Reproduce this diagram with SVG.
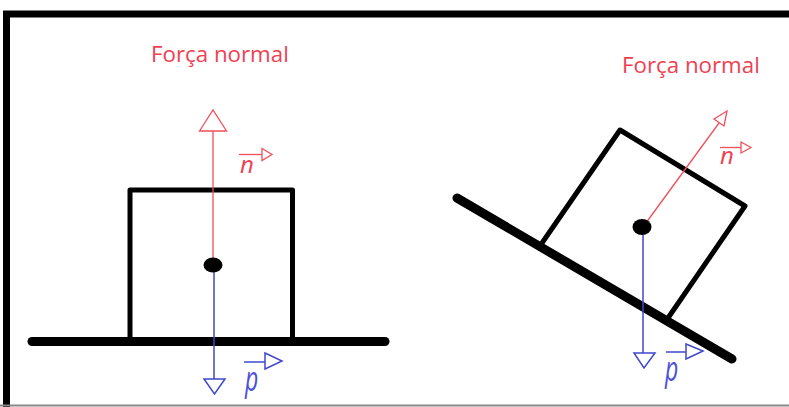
<svg xmlns="http://www.w3.org/2000/svg" width="789" height="407" viewBox="0 0 789 407">
<style>
.frame{fill:none;stroke:#000;stroke-width:7}
.ground{stroke:#000;stroke-width:9;stroke-linecap:round;fill:none}
.box{fill:none;stroke:#000;stroke-width:5;stroke-linejoin:round}
.red{stroke:#f0505a;stroke-width:1.3;fill:none}
.redh{stroke:#f0505a;stroke-width:1.3;fill:#fff}
.blue{stroke:#3f48cc;stroke-width:1.5;fill:none}
.blueh{stroke:#3f48cc;stroke-width:1.5;fill:#fff}
.title{font-family:"Open Sans","Liberation Sans",sans-serif;font-size:22.3px;fill:#f04050}
.vn{font-family:"Open Sans","Liberation Sans",sans-serif;font-style:italic;font-size:24px;fill:#f04050}
.vp{font-family:"Open Sans","Liberation Sans",sans-serif;font-style:italic;font-size:23px;fill:#4a50d8}
</style>
<rect width="789" height="407" fill="#fff"/>
<g id="frame">
<path class="frame" d="M6.5 407 V14 H789"/>
<line x1="0" y1="405.5" x2="789" y2="405.5" stroke="#888" stroke-width="2"/>
</g>
<g id="left-scene">
<g id="ground-left"><line class="ground" x1="32" y1="341.5" x2="385" y2="341.5"/></g>
<g id="box-left"><path class="box" d="M130 339 V190 H292.5 V339"/></g>
<g id="title-left"><text class="title" x="151" y="62">Força normal</text></g>
<g id="label-n-left">
<line class="red" x1="239" y1="154.5" x2="262" y2="154.5"/>
<path class="redh" d="M262 148.5 L272 154.5 L262 160.5 Z"/>
<text class="vn" x="240" y="173">n</text>
</g>
<g id="label-p-left">
<line class="blue" x1="244" y1="362" x2="265" y2="362"/>
<path class="blueh" d="M265 353 L282 361 L265 369 Z"/>
<text class="vp" transform="translate(245 391) scale(1 1.5)">p</text>
</g>
</g>
<g id="right-scene">
<g id="ground-right"><line class="ground" x1="457" y1="198" x2="732" y2="359"/></g>
<g id="box-right"><path class="box" d="M542 243 L620 130 L745 206 L668 318"/></g>
<g id="title-right"><text class="title" x="622" y="73">Força normal</text></g>
<g id="label-n-right">
<line class="red" x1="720" y1="147.5" x2="741" y2="147.5"/>
<path class="redh" d="M741 142 L751 147.5 L741 153 Z"/>
<text class="vn" x="720" y="164">n</text>
</g>
<g id="label-p-right">
<line class="blue" x1="666" y1="352" x2="686" y2="352"/>
<path class="blueh" d="M686 344 L703 351 L686 359 Z"/>
<text class="vp" transform="translate(665 381) scale(1 1.5)">p</text>
</g>
</g>
<g id="connectors">
<line class="red" x1="213" y1="265" x2="213" y2="131"/>
<path class="redh" d="M199.5 131 L213 110 L226.5 131 Z"/>
<line class="blue" x1="214" y1="265" x2="214" y2="379"/>
<path class="blueh" d="M204 379 L225 379 L214.5 394 Z"/>
<line class="red" x1="643" y1="227" x2="719" y2="123"/>
<path class="redh" d="M714 119 L727 111 L724 126 Z"/>
<line class="blue" x1="643" y1="227" x2="643" y2="353"/>
<path class="blueh" d="M634 353 L655 353 L644 368 Z"/>
</g>
<g id="dot-left"><ellipse cx="213" cy="265" rx="9.5" ry="7.5" fill="#000"/></g>
<g id="dot-right"><ellipse cx="642" cy="227" rx="9.5" ry="8" fill="#000"/></g>
</svg>
